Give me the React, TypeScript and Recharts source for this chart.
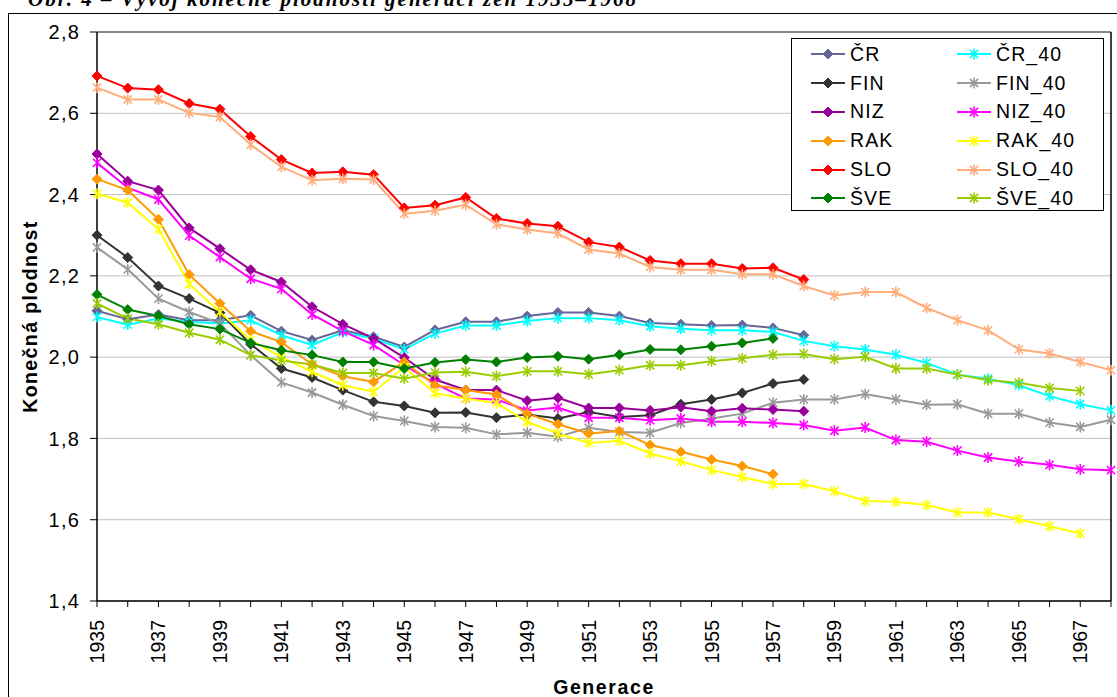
import React from 'react';
import { LineChart, Line, XAxis, YAxis, CartesianGrid, Legend, ReferenceLine } from 'recharts';

// generations (x categories)
const years = [
  1935, 1936, 1937, 1938, 1939, 1940, 1941, 1942, 1943, 1944, 1945, 1946,
  1947, 1948, 1949, 1950, 1951, 1952, 1953, 1954, 1955, 1956, 1957, 1958,
  1959, 1960, 1961, 1962, 1963, 1964, 1965, 1966, 1967, 1968,
];

const yTicks = [1.4, 1.6, 1.8, 2.0, 2.2, 2.4, 2.6, 2.8];

// completed fertility
const cr = [2.114, 2.093, 2.105, 2.091, 2.091, 2.103, 2.064, 2.042, 2.066, 2.05, 2.025, 2.067,
  2.087, 2.087, 2.101, 2.11, 2.11, 2.101, 2.084, 2.081, 2.078, 2.079, 2.072, 2.054];
const cr40 = [2.099, 2.08, 2.095, 2.087, 2.083, 2.091, 2.054, 2.03, 2.061, 2.046, 2.019, 2.058,
  2.078, 2.078, 2.089, 2.096, 2.096, 2.091, 2.076, 2.07, 2.066, 2.066, 2.062, 2.04,
  2.027, 2.019, 2.006, 1.986, 1.957, 1.947, 1.931, 1.904, 1.884, 1.869];
const fin = [2.3, 2.245, 2.175, 2.144, 2.109, 2.032, 1.972, 1.95, 1.919, 1.89, 1.88, 1.863,
  1.864, 1.851, 1.859, 1.849, 1.865, 1.853, 1.857, 1.884, 1.896, 1.912, 1.935, 1.945];
const fin40 = [2.27, 2.216, 2.144, 2.111, 2.083, 2.005, 1.938, 1.913, 1.883, 1.855, 1.843, 1.828,
  1.826, 1.81, 1.814, 1.804, 1.826, 1.816, 1.814, 1.838, 1.849, 1.861, 1.888, 1.896,
  1.896, 1.909, 1.896, 1.883, 1.884, 1.861, 1.861, 1.839, 1.828, 1.846];
const niz = [2.5, 2.433, 2.411, 2.318, 2.267, 2.215, 2.185, 2.124, 2.081, 2.046, 1.999, 1.945,
  1.919, 1.919, 1.893, 1.9, 1.875, 1.875, 1.869, 1.877, 1.867, 1.874, 1.871, 1.867];
const niz40 = [2.478, 2.417, 2.388, 2.299, 2.246, 2.193, 2.168, 2.105, 2.064, 2.03, 1.98, 1.935,
  1.898, 1.896, 1.869, 1.876, 1.851, 1.851, 1.845, 1.849, 1.841, 1.841, 1.838, 1.833,
  1.819, 1.827, 1.796, 1.792, 1.77, 1.753, 1.743, 1.735, 1.724, 1.722];
const rak = [2.438, 2.411, 2.339, 2.203, 2.132, 2.064, 2.037, 1.982, 1.953, 1.939, 1.988, 1.931,
  1.919, 1.908, 1.861, 1.835, 1.812, 1.818, 1.784, 1.767, 1.748, 1.732, 1.712];
const rak40 = [2.402, 2.38, 2.315, 2.18, 2.111, 2.042, 2.0, 1.964, 1.931, 1.915, 1.975, 1.911,
  1.898, 1.887, 1.841, 1.812, 1.789, 1.794, 1.763, 1.744, 1.722, 1.705, 1.688, 1.688,
  1.67, 1.646, 1.644, 1.636, 1.618, 1.618, 1.601, 1.584, 1.566];
const slo = [2.692, 2.662, 2.658, 2.624, 2.61, 2.543, 2.486, 2.453, 2.456, 2.449, 2.367, 2.374,
  2.393, 2.341, 2.329, 2.322, 2.283, 2.271, 2.238, 2.23, 2.23, 2.218, 2.22, 2.191];
const slo40 = [2.663, 2.634, 2.634, 2.601, 2.591, 2.523, 2.468, 2.435, 2.439, 2.437, 2.353, 2.36,
  2.375, 2.327, 2.314, 2.304, 2.265, 2.255, 2.222, 2.215, 2.215, 2.204, 2.204, 2.175,
  2.152, 2.16, 2.16, 2.121, 2.091, 2.066, 2.019, 2.009, 1.988, 1.968];
const sve = [2.154, 2.117, 2.101, 2.081, 2.069, 2.035, 2.017, 2.005, 1.988, 1.988, 1.972, 1.987,
  1.994, 1.988, 1.999, 2.002, 1.995, 2.006, 2.019, 2.018, 2.027, 2.035, 2.046];
const sve40 = [2.132, 2.095, 2.081, 2.06, 2.043, 2.005, 1.992, 1.982, 1.961, 1.961, 1.947, 1.962,
  1.964, 1.953, 1.965, 1.965, 1.958, 1.968, 1.98, 1.98, 1.99, 1.997, 2.006, 2.008,
  1.995, 2.001, 1.972, 1.972, 1.957, 1.943, 1.937, 1.924, 1.917];

type Marker = 'diamond' | 'star';
interface Series { key: string; values: number[]; color: string; marker: Marker }

// order = drawing order (Excel legend is row-major)
const series: Series[] = [
  { key: 'ČR', values: cr, color: '#666699', marker: 'diamond' },
  { key: 'ČR_40', values: cr40, color: '#00FFFF', marker: 'star' },
  { key: 'FIN', values: fin, color: '#333333', marker: 'diamond' },
  { key: 'FIN_40', values: fin40, color: '#999999', marker: 'star' },
  { key: 'NIZ', values: niz, color: '#990099', marker: 'diamond' },
  { key: 'NIZ_40', values: niz40, color: '#FF00FF', marker: 'star' },
  { key: 'RAK', values: rak, color: '#FF9900', marker: 'diamond' },
  { key: 'RAK_40', values: rak40, color: '#FFFF00', marker: 'star' },
  { key: 'SLO', values: slo, color: '#FF0000', marker: 'diamond' },
  { key: 'SLO_40', values: slo40, color: '#FFAD7A', marker: 'star' },
  { key: 'ŠVE', values: sve, color: '#008000', marker: 'diamond' },
  { key: 'ŠVE_40', values: sve40, color: '#99CC00', marker: 'star' },
];

const data = years.map((year, i) => {
  const row: Record<string, number | null> = { year };
  series.forEach((s) => {
    row[s.key] = i < s.values.length ? s.values[i] : null;
  });
  return row;
});

const FONT = "Arial, 'Liberation Sans', sans-serif";

const MarkerShape = ({ cx, cy, color, marker }: { cx: number; cy: number; color: string; marker: Marker }) => {
  if (marker === 'diamond') {
    const r = 5;
    return (
      <polygon
        points={`${cx},${cy - r} ${cx + r},${cy} ${cx},${cy + r} ${cx - r},${cy}`}
        fill={color}
        stroke={color}
        strokeWidth={1}
      />
    );
  }
  const r = 5.5;
  const d = r * 0.75;
  return (
    <g stroke={color} strokeWidth={1.6}>
      <line x1={cx} y1={cy - r} x2={cx} y2={cy + r} />
      <line x1={cx - d} y1={cy - d} x2={cx + d} y2={cy + d} />
      <line x1={cx - d} y1={cy + d} x2={cx + d} y2={cy - d} />
    </g>
  );
};

const makeDot = (s: Series) => (props: any) => {
  const { cx, cy, index, value } = props;
  if (value == null || cx == null || cy == null) return <g key={`${s.key}-${index}`} />;
  return (
    <g key={`${s.key}-${index}`}>
      <MarkerShape cx={cx} cy={cy} color={s.color} marker={s.marker} />
    </g>
  );
};

const YearTick = (props: any) => {
  const { x, y, payload, index } = props;
  if (index % 2 !== 0) return <g />;
  return (
    <text
      x={x}
      y={y}
      transform={`rotate(-90 ${x} ${y})`}
      textAnchor="end"
      dominantBaseline="central"
      fontSize={19.5}
      fill="#000"
      fontFamily={FONT}
    >
      {payload.value}
    </text>
  );
};

const YTitle = (props: any) => {
  const vb = props.viewBox || {};
  const cx = 30;
  const cy = vb.y + vb.height / 2;
  return (
    <text
      x={cx}
      y={cy}
      transform={`rotate(-90 ${cx} ${cy})`}
      textAnchor="middle"
      dominantBaseline="central"
      fontSize={19.5}
      fontWeight="bold"
      letterSpacing={1.4}
      fill="#000"
      fontFamily={FONT}
    >
      Konečná plodnost
    </text>
  );
};

const XTitle = (props: any) => {
  const vb = props.viewBox || {};
  return (
    <text
      x={vb.x + vb.width / 2}
      y={694}
      textAnchor="middle"
      fontSize={19.5}
      fontWeight="bold"
      letterSpacing={1.6}
      fill="#000"
      fontFamily={FONT}
    >
      Generace
    </text>
  );
};

const LegendBox = () => {
  const left = series.filter((s) => s.marker === 'diamond');
  const right = series.filter((s) => s.marker === 'star');
  const rows = left.map((s, i) => [s, right[i]]);
  return (
    <div
      style={{
        width: '100%',
        height: '100%',
        boxSizing: 'border-box',
        border: '1px solid #000',
        background: '#fff',
        paddingTop: 1,
        paddingLeft: 19,
        fontFamily: FONT,
        fontSize: 19.5,
        letterSpacing: 1.1,
        color: '#000',
      }}
    >
      {rows.map((pair, r) => (
        <div key={r} style={{ display: 'flex', height: 28.8, alignItems: 'center' }}>
          {pair.map((s) => (
            <div key={s.key} style={{ display: 'flex', alignItems: 'center', width: 156 }}>
              <svg width={34} height={14} style={{ marginRight: 5, flex: 'none' }}>
                <line x1={0} y1={7} x2={34} y2={7} stroke={s.color} strokeWidth={2} />
                <MarkerShape cx={17} cy={7} color={s.color} marker={s.marker} />
              </svg>
              <span style={{ whiteSpace: 'nowrap' }}>{s.key}</span>
            </div>
          ))}
        </div>
      ))}
    </div>
  );
};

export default function App() {
  return (
    <div style={{ position: 'absolute', left: 0, top: 0, width: 1117, height: 697, overflow: 'hidden', background: '#fff', fontFamily: FONT }}>
      <div
        style={{
          position: 'absolute',
          left: 28,
          top: -13,
          fontFamily: "'Times New Roman', 'Liberation Serif', serif",
          fontStyle: 'italic',
          fontWeight: 'bold',
          fontSize: 21,
          whiteSpace: 'nowrap',
          letterSpacing: 2,
        }}
      >
        Obr. 4 – Vývoj konečné plodnosti generací žen 1935–1968
      </div>
      <div
        style={{
          position: 'absolute',
          left: 8,
          top: 13,
          width: 1200,
          height: 800,
          border: '1px solid #000',
        }}
      />
      <div style={{ position: 'absolute', left: 0, top: 0 }}>
        <LineChart width={1117} height={697} data={data} margin={{ top: 32, right: 6, left: 0, bottom: 0 }}>
          <CartesianGrid vertical={false} stroke="#C0C0C0" strokeWidth={1} />
          <XAxis
            dataKey="year"
            type="category"
            interval={0}
            height={96}
            tickSize={6}
            tickMargin={13}
            tick={<YearTick />}
            axisLine={{ stroke: '#000', strokeWidth: 1.5 }}
            tickLine={{ stroke: '#000' }}
            label={XTitle}
          />
          <YAxis
            type="number"
            domain={[1.4, 2.8]}
            ticks={yTicks}
            width={97}
            tickSize={7}
            tickMargin={10}
            interval={0}
            tickFormatter={(v: number) => v.toFixed(1).replace('.', ',')}
            tick={{ fill: '#000', fontSize: 20, fontFamily: FONT, letterSpacing: 1.2 }}
            axisLine={{ stroke: '#000', strokeWidth: 1.5 }}
            tickLine={{ stroke: '#000' }}
            label={YTitle}
          />
          <ReferenceLine y={2.8} stroke="#333" strokeWidth={1} />
          <ReferenceLine x={1968} stroke="#000" strokeWidth={1.5} />
          {series.map((s) => (
            <Line
              key={s.key}
              type="linear"
              dataKey={s.key}
              stroke={s.color}
              strokeWidth={2}
              dot={makeDot(s)}
              activeDot={false}
              isAnimationActive={false}
              connectNulls={false}
            />
          ))}
          <Legend
            layout="horizontal"
            verticalAlign="middle"
            align="center"
            content={<LegendBox />}
            wrapperStyle={{ position: 'absolute', left: 791, top: 38, width: 313, height: 173 }}
          />
        </LineChart>
      </div>
    </div>
  );
}
